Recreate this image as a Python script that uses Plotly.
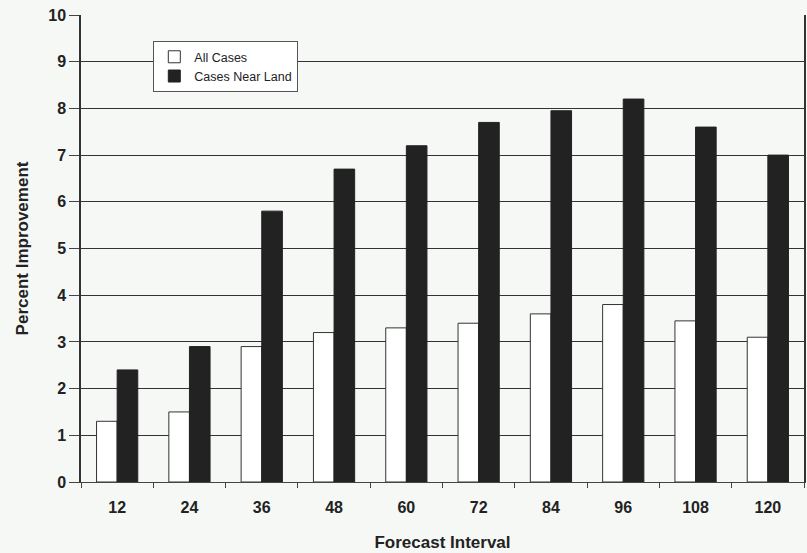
import plotly.graph_objects as go

categories = ["12", "24", "36", "48", "60", "72", "84", "96", "108", "120"]
all_cases = [1.3, 1.5, 2.9, 3.2, 3.3, 3.4, 3.6, 3.8, 3.45, 3.1]
near_land = [2.4, 2.9, 5.8, 6.7, 7.2, 7.7, 7.95, 8.2, 7.6, 7.0]

fig = go.Figure()
fig.add_trace(go.Bar(x=categories, y=all_cases, name="All Cases",
                     marker=dict(color="white", line=dict(color="#333333", width=1))))
fig.add_trace(go.Bar(x=categories, y=near_land, name="Cases Near Land",
                     marker=dict(color="#222222", line=dict(color="#222222", width=1))))

font_family = "Liberation Sans, Arial, sans-serif"
fig.update_layout(
    width=807, height=553,
    margin=dict(l=81, r=3, t=15, b=71),
    paper_bgcolor="#f6f8f6", plot_bgcolor="#f6f8f6",
    barmode="group", bargap=0.43, bargroupgap=0,
    font=dict(family=font_family, color="#222222"),
    legend=dict(x=0.10, y=0.944, xanchor="left", yanchor="top",
                bgcolor="white", bordercolor="#555555", borderwidth=1,
                font=dict(size=12.5, color="#222222"), tracegroupgap=0,
                itemwidth=30),
    xaxis=dict(
        title=dict(text="<b>Forecast Interval</b>", font=dict(size=17), standoff=20),
        tickfont=dict(size=16, family=font_family),
        tickprefix="<b>", ticksuffix="</b>",
        ticklabelstandoff=11,
        showline=True, linecolor="#444444", linewidth=1,
        ticks="outside", ticklen=5, tickcolor="#444444", tickson="boundaries",
        range=[-0.5, 9.5], automargin=False,
    ),
    yaxis=dict(
        title=dict(text="<b>Percent Improvement</b>", font=dict(size=17), standoff=15),
        tickfont=dict(size=16, family=font_family),
        tickprefix="<b>", ticksuffix="</b>",
        range=[0, 10], dtick=1,
        showline=True, linecolor="#333333", linewidth=1.5, mirror=True,
        ticks="outside", ticklen=10, tickcolor="#444444",
        showgrid=True, gridcolor="#333333", gridwidth=1,
        zeroline=False, automargin=False,
    ),
)

fig.write_html("out.html",
               config={"displayModeBar": False},
               post_script="document.body.style.margin='0';document.body.style.background='#f6f8f6';")
